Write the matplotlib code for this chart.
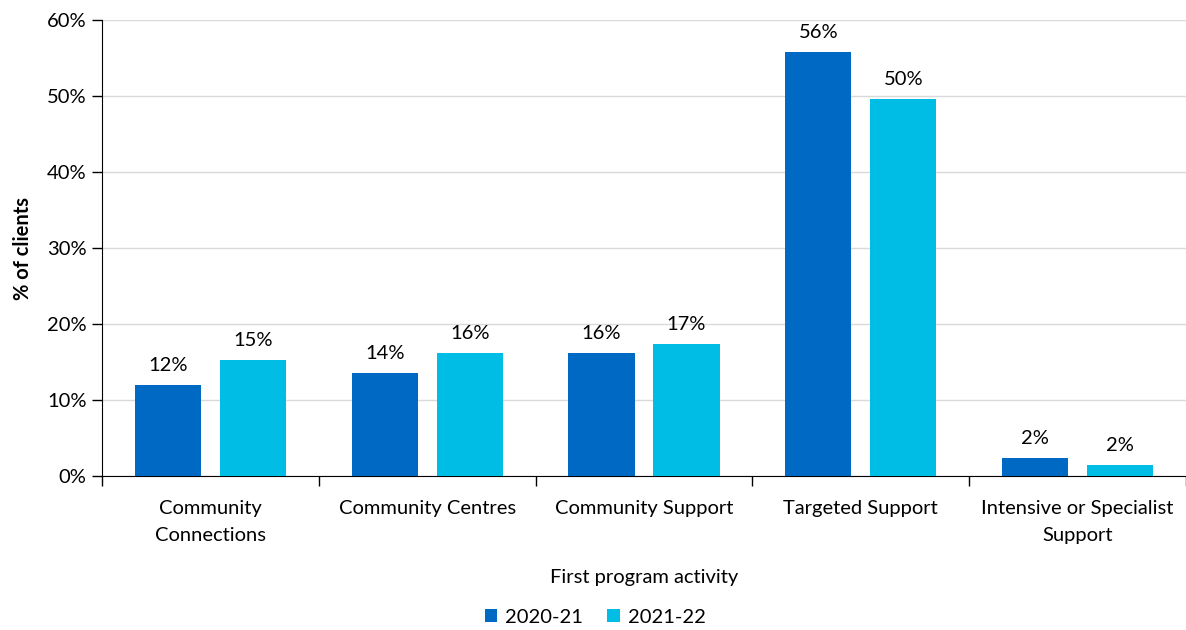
import numpy as np
import matplotlib.pyplot as plt
from matplotlib.ticker import FixedLocator, PercentFormatter

plt.rcParams['font.family'] = ['Lato', 'DejaVu Sans']

# first program activity, share of clients by year
categories = ['Community\nConnections', 'Community Centres', 'Community Support',
              'Targeted Support', 'Intensive or Specialist\nSupport']
years = ['2020-21', '2021-22']
pct_2021 = [11.95, 13.6, 16.2, 55.8, 2.4]
pct_2122 = [15.3, 16.2, 17.4, 49.6, 1.5]
colours = ['#0069C4', '#00BDE6']

fs = 14.5
fig = plt.figure(figsize=(11.86, 6.3), dpi=100)
ax = fig.add_axes([0.086, 0.2444, 0.914, 0.7238])

x = np.arange(len(categories))
w = 0.305
off = 0.196
for vals, dx, c, lab in zip([pct_2021, pct_2122], [-off, off], colours, years):
    bars = ax.bar(x + dx, vals, w, color=c, label=lab, zorder=3)
    for b, v in zip(bars, vals):
        ax.annotate('{:.0f}%'.format(v), (b.get_x() + b.get_width() / 2, v),
                    xytext=(0, 8), textcoords='offset points',
                    ha='center', va='bottom', fontsize=fs)

ax.set_xlim(-0.5, len(categories) - 0.5)
ax.set_ylim(0, 60)
ax.set_yticks(np.arange(0, 61, 10))
ax.yaxis.set_major_formatter(PercentFormatter(decimals=0))
ax.grid(axis='y', color='#d9d9d9', lw=1, zorder=0)

# boundary ticks as major, labels on minor
ax.xaxis.set_major_locator(FixedLocator(np.arange(-0.5, len(categories), 1)))
ax.xaxis.set_minor_locator(FixedLocator(x))
ax.set_xticklabels([])
ax.set_xticklabels(categories, minor=True, linespacing=1.75)
ax.tick_params(axis='x', which='minor', length=0, pad=17, labelsize=fs)
ax.tick_params(axis='x', which='major', length=7, width=1, direction='out')
ax.tick_params(axis='y', length=7, width=1, labelsize=fs, pad=4)

for s in ['top', 'right']:
    ax.spines[s].set_visible(False)
ax.spines['left'].set_color('black')
ax.spines['bottom'].set_color('black')

ax.set_ylabel('% of clients', fontsize=fs, fontweight='bold', labelpad=10)
ax.set_xlabel('First program activity', fontsize=fs, labelpad=18)

fig.legend(loc='lower center', bbox_to_anchor=(0.502, -0.022), ncol=2, frameon=False,
           fontsize=fs, handlelength=0.6, handleheight=0.6, handletextpad=0.4,
           columnspacing=1.2)

fig.savefig('out.png', dpi=100)
